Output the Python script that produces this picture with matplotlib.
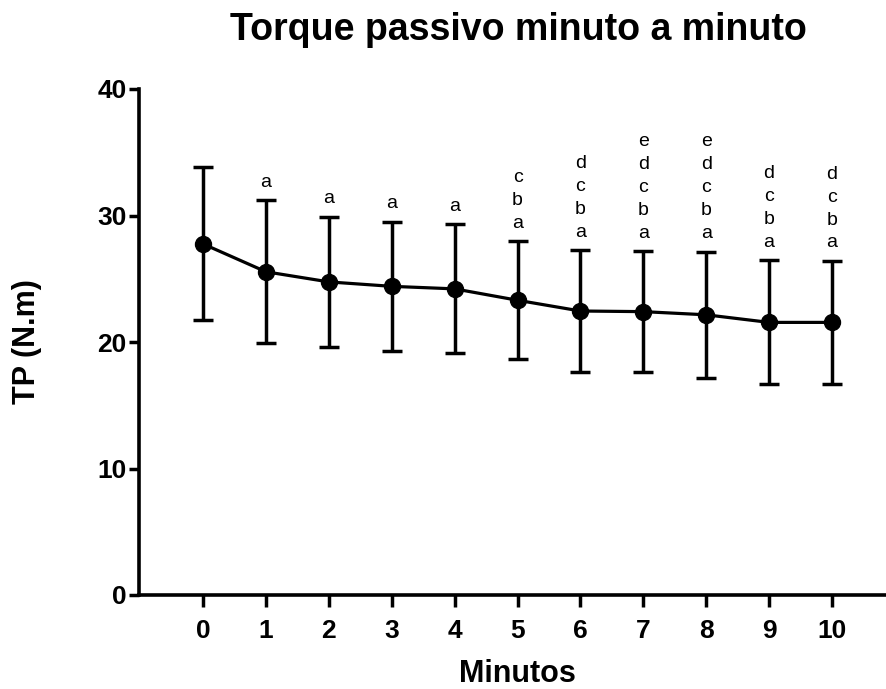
import matplotlib
matplotlib.use("Agg")
import matplotlib.pyplot as plt

plt.rcParams["font.family"] = ["Liberation Sans", "DejaVu Sans"]

# Data (mean +/- SD)
minutos = [0, 1, 2, 3, 4, 5, 6, 7, 8, 9, 10]
torque = [27.75, 25.55, 24.75, 24.4, 24.2, 23.3, 22.45, 22.4, 22.15, 21.55, 21.55]
desvio = [6.05, 5.65, 5.15, 5.1, 5.1, 4.65, 4.8, 4.78, 5.0, 4.9, 4.85]
letras = ["", "a", "a", "a", "a", "cba", "dcba", "edcba", "edcba", "dcba", "dcba"]

xmin, xmax = -1.02, 10.86

fig = plt.figure(figsize=(8.87, 6.89), dpi=100)
ax = fig.add_axes([139 / 887, 1 - 595 / 689, (886 - 139) / 887, (595 - 89) / 689])

ax.errorbar(minutos, torque, yerr=desvio, color="black", lw=2.3,
            marker="o", markersize=11.5, elinewidth=2.5, capsize=7, capthick=2.5)

# letras de significancia acima das barras
for x, m, s, txt in zip(minutos, torque, desvio, letras):
    for i, ch in enumerate(reversed(txt)):
        ax.annotate(ch, (x, m + s), xytext=(0, 13 + 16.5 * i), textcoords="offset points",
                    ha="center", va="center", fontsize=14)

ax.set_xlim(xmin, xmax)
ax.set_ylim(0, 40)
ax.set_xticks(minutos)
ax.set_yticks([0, 10, 20, 30, 40])

for side in ["top", "right"]:
    ax.spines[side].set_visible(False)
for side in ["left", "bottom"]:
    ax.spines[side].set_linewidth(2.6)

ax.tick_params(axis="y", length=7, width=2.5, pad=2, labelsize=19)
ax.tick_params(axis="x", length=8.5, width=2.5, pad=9, labelsize=19)
for lab in ax.get_xticklabels() + ax.get_yticklabels():
    lab.set_fontweight("bold")

ax.set_ylabel("TP (N.m)", fontsize=22, fontweight="bold")
ax.yaxis.set_label_coords(-97 / 747, 0.5)
ax.set_xlabel("Minutos", fontsize=22, fontweight="bold")
ax.xaxis.set_label_coords((5 - xmin) / (xmax - xmin), -64 / 506)

fig.text(518 / 887, 1 - 30 / 689, "Torque passivo minuto a minuto", fontsize=27,
         fontweight="bold", ha="center", va="center")

fig.savefig("out.png", dpi=100)
